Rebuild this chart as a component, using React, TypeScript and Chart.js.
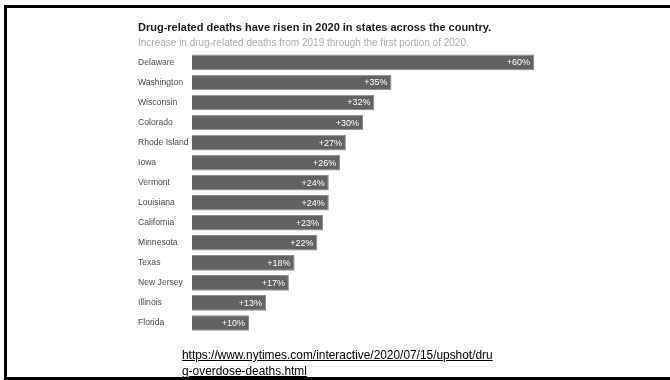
import React, { useEffect, useRef } from "react";
import { Chart, registerables } from "chart.js";

Chart.register(...registerables);

const states = [
  "Delaware", "Washington", "Wisconsin", "Colorado", "Rhode Island", "Iowa", "Vermont",
  "Louisiana", "California", "Minnesota", "Texas", "New Jersey", "Illinois", "Florida",
];
const increases = [60, 35, 32, 30, 27, 26, 24, 24, 23, 22, 18, 17, 13, 10];
const titleText = "Drug-related deaths have risen in 2020 in states across the country.";
const subtitleText = "Increase in drug-related deaths from 2019 through the first portion of 2020.";
const urlLine1 = "https://www.nytimes.com/interactive/2020/07/15/upshot/dru";
const urlLine2 = "g-overdose-deaths.html";

const FONT = "'Liberation Sans', Arial, sans-serif";

const valueLabels = {
  id: "valueLabels",
  afterDatasetsDraw(chart: any) {
    const ctx = chart.ctx;
    const meta = chart.getDatasetMeta(0);
    ctx.save();
    ctx.font = `9px ${FONT}`;
    ctx.fillStyle = "#ffffff";
    ctx.textAlign = "right";
    ctx.textBaseline = "middle";
    meta.data.forEach((bar: any, i: number) => {
      const v = chart.data.datasets[0].data[i];
      ctx.fillText(`+${v}%`, bar.x - 4, bar.y + 0.5);
    });
    ctx.restore();
  },
};

export default function App() {
  const ref = useRef<HTMLCanvasElement | null>(null);
  useEffect(() => {
    if (!ref.current) return;
    const chart = new Chart(ref.current, {
      type: "bar",
      data: {
        labels: states,
        datasets: [
          {
            data: increases,
            backgroundColor: "#626262",
            borderColor: "#8c8c8c",
            borderWidth: 1,
            barPercentage: 0.78,
            categoryPercentage: 1,
          },
        ],
      },
      options: {
        indexAxis: "y",
        animation: false,
        responsive: false,
        maintainAspectRatio: false,
        layout: { padding: { left: 138, right: 136, top: 20, bottom: 47 } },
        plugins: {
          legend: { display: false },
          tooltip: { enabled: false },
          title: {
            display: true,
            text: titleText,
            align: "start",
            color: "#1a1a1a",
            font: { family: FONT, size: 11, weight: "bold", lineHeight: 1.4 },
            padding: { top: 0, bottom: 1 },
          },
          subtitle: {
            display: true,
            text: subtitleText,
            align: "start",
            color: "#ababab",
            font: { family: FONT, size: 10, lineHeight: 1.3 },
            padding: { top: 0, bottom: 3 },
          },
        },
        scales: {
          x: { display: false, min: 0, max: 60 },
          y: {
            grid: { display: false },
            border: { display: false },
            ticks: {
              crossAlign: "far",
              color: "#4a4a4a",
              padding: 0,
              font: { family: FONT, size: 8.6 },
            },
            afterFit(scale: any) {
              scale.width = 54;
            },
          },
        },
      },
      plugins: [valueLabels],
    } as any);
    return () => chart.destroy();
  }, []);

  return (
    <div style={{ position: "fixed", left: 0, top: 0, width: 670, height: 380, background: "#fff", overflow: "hidden" }}>
      <canvas ref={ref} width={670} height={380} style={{ position: "absolute", left: 0, top: 0, width: 670, height: 380 }} />
      <div style={{ position: "absolute", left: 4, top: 5, width: 666, height: 3, background: "#000" }} />
      <div style={{ position: "absolute", left: 4, top: 5, width: 3, height: 375, background: "#000" }} />
      <div style={{ position: "absolute", left: 4, top: 377, width: 666, height: 3, background: "#000" }} />
      <div
        style={{
          position: "absolute",
          left: 182,
          top: 347,
          fontFamily: FONT,
          fontSize: 11.9,
          lineHeight: "16px",
          color: "#000",
          textDecoration: "underline",
          whiteSpace: "nowrap",
        }}
      >
        <div>{urlLine1}</div>
        <div>{urlLine2}</div>
      </div>
    </div>
  );
}
